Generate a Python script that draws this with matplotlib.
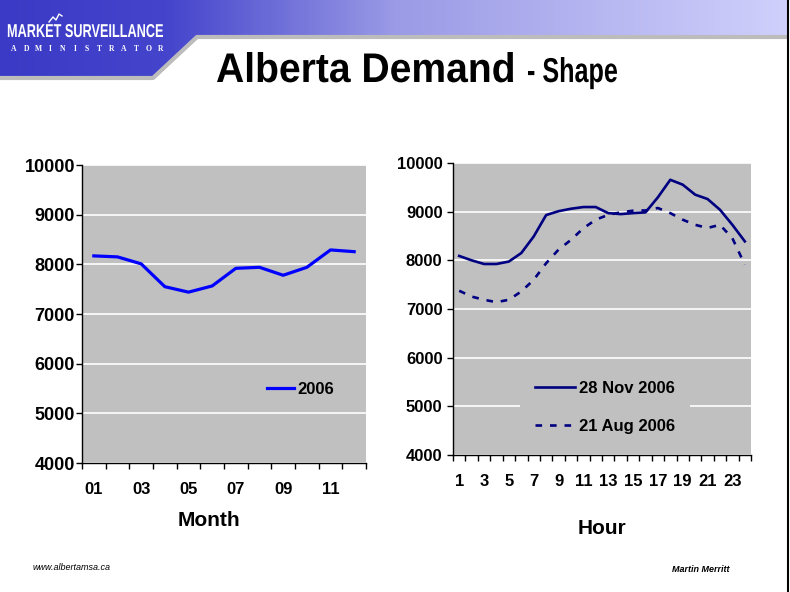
import numpy as np
import matplotlib
matplotlib.use("Agg")
import matplotlib.pyplot as plt
from matplotlib.patches import Polygon, PathPatch
from matplotlib.colors import LinearSegmentedColormap
from matplotlib.textpath import TextPath
from matplotlib.font_manager import FontProperties
from matplotlib.transforms import Affine2D

plt.rcParams['font.family'] = ['Liberation Sans', 'DejaVu Sans']

# monthly average demand (MW)
months = ["01", "02", "03", "04", "05", "06", "07", "08", "09", "10", "11", "12"]
demand_2006 = [8170, 8150, 8010, 7550, 7440, 7565, 7920, 7940, 7780, 7940, 8290, 8255]

# hourly demand on two days (MW)
hours = [str(h) for h in range(1, 25)]
nov_28 = [8090, 8000, 7925, 7925, 7975, 8150, 8490, 8930, 9010, 9060, 9095, 9095,
          8970, 8950, 8970, 8985, 9295, 9655, 9555, 9350, 9260, 9040, 8730, 8390]
aug_21 = [7375, 7255, 7190, 7140, 7190, 7360, 7600, 7940, 8220, 8420, 8660, 8835,
          8935, 8985, 9020, 9025, 9075, 8970, 8835, 8730, 8665, 8730, 8455, 7910]

W, H = 790, 592
fig = plt.figure(figsize=(W / 100, H / 100), dpi=100)

# ---- slide background / header ----
bg = fig.add_axes([0, 0, 1, 1])
bg.set_xlim(0, W)
bg.set_ylim(H, 0)
bg.axis('off')


def fit_text(s, x0, x1, top, base, color='black', family='Liberation Sans', weight='bold'):
    # text drawn as a path squeezed into a box (narrow fonts are not installed)
    tp = TextPath((0, 0), s, size=10, prop=FontProperties(family=family, weight=weight))
    v = tp.vertices
    xmin, xmax, ymax = v[:, 0].min(), v[:, 0].max(), v[:, 1].max()
    sx = (x1 - x0) / (xmax - xmin)
    sy = (base - top) / ymax
    tr = Affine2D().translate(-xmin, 0).scale(sx, -sy).translate(x0, base)
    bg.add_patch(PathPatch(tr.transform_path(tp), facecolor=color, edgecolor='none', lw=0))


cmap = LinearSegmentedColormap.from_list(
    "hdr", [(0, "#3a3ac6"), (0.21, "#4444cc"), (0.5, "#9a9ae6"), (1, "#d0d0fc")])
grad = np.linspace(0, 1, 256).reshape(1, -1)
shape = Polygon([(0, 0), (788, 0), (788, 35), (197, 35), (153, 76), (0, 76)],
                closed=True, facecolor='none', edgecolor='none')
bg.add_patch(shape)
im = bg.imshow(grad, cmap=cmap, aspect='auto', extent=[0, 788, 76, 0])
im.set_clip_path(shape)
bg.plot([0, 153, 197, 788], [78, 78, 37, 37], color='#bcbcbc', lw=3, solid_capstyle='butt')
bg.plot([788, 788], [0, H], color='black', lw=1.5)

# logo
fit_text("MARKET SURVEILLANCE", 7, 163, 24, 37, color='white')
bg.plot([49, 53, 56, 59, 62], [22, 17, 20, 14, 16], color='white', lw=1)
for i, ch in enumerate("ADMINISTRATOR"):
    bg.text(14 + i * 12.2, 49, ch, color='white', fontsize=5.5, fontweight='bold',
            family=['Liberation Serif', 'DejaVu Serif'], ha='center', va='center')

# title
fit_text("Alberta Demand", 216, 513, 52, 82)
fit_text("- Shape", 527, 617, 57, 82)

bg.text(33, 567, "www.albertamsa.ca", fontsize=6.5, style='italic', va='center')
bg.text(730, 570, "Martin Merritt", fontsize=6.5, style='italic', fontweight='bold',
        ha='right', va='center')

bg.text(209, 521, "Month", fontsize=15, fontweight='bold', ha='center', va='center')
bg.text(602, 528, "Hour", fontsize=15, fontweight='bold', ha='center', va='center')


def style_axes(ax, cats, ysize, xsize, ypad):
    n = len(cats)
    ax.set_facecolor('#c0c0c0')
    ax.set_xlim(0.5, n + 0.5)
    ax.set_ylim(4000, 10000)
    ax.set_yticks(range(4000, 10001, 1000))
    ax.grid(axis='y', color='white', lw=1.2)
    ax.set_axisbelow(True)
    for s in ('top', 'right'):
        ax.spines[s].set_visible(False)
    for s in ('left', 'bottom'):
        ax.spines[s].set_color('black')
        ax.spines[s].set_linewidth(1.0)
    # tick marks between categories, labels on every other category
    ax.set_xticks(np.arange(0.5, n + 1, 1.0))
    ax.set_xticklabels([])
    pos = np.arange(1, n + 1)
    ax.set_xticks(pos[::2], minor=True)
    ax.set_xticklabels(cats[::2], minor=True)
    ax.tick_params(axis='x', which='major', direction='out', length=4, width=1)
    ax.tick_params(axis='x', which='minor', length=0, pad=14, labelsize=xsize)
    ax.tick_params(axis='y', direction='out', length=4, width=1, labelsize=ysize, pad=ypad)
    for lab in ax.get_xticklabels(minor=True) + ax.get_yticklabels():
        lab.set_fontweight('bold')


# ---- left chart: monthly ----
ax1 = fig.add_axes([82 / W, 1 - 463 / H, 284 / W, 298 / H])
style_axes(ax1, months, 13, 12, 1)
x1 = np.arange(1, len(months) + 1)
ax1.plot(x1, demand_2006, color='#0000ff', lw=2.3, label='2006')
ax1.legend(loc='center', bbox_to_anchor=(0.77, 0.248), frameon=False,
           handlelength=1.6, handletextpad=0.2, borderaxespad=0,
           prop={'weight': 'bold', 'size': 12})

# ---- right chart: hourly ----
ax2 = fig.add_axes([453 / W, 1 - 455 / H, 298 / W, 292 / H])
style_axes(ax2, hours, 12, 12, 3.5)
x2 = np.arange(1, len(hours) + 1)
ax2.plot(x2, nov_28, color='#000080', lw=1.9, label='28 Nov 2006')
ln, = ax2.plot(x2, aug_21, color='#000080', lw=1.9, label='21 Aug 2006')
ln.set_dashes((2.5, 3.0))
leg = ax2.legend(loc='center', bbox_to_anchor=(0.51, 0.163), frameon=True,
                 facecolor='#c0c0c0', edgecolor='none', framealpha=1, fancybox=False,
                 handlelength=2.4, handletextpad=0.2, labelspacing=1.4,
                 borderpad=0.9, borderaxespad=0,
                 prop={'weight': 'bold', 'size': 12})

fig.savefig("out.png", dpi=100)
